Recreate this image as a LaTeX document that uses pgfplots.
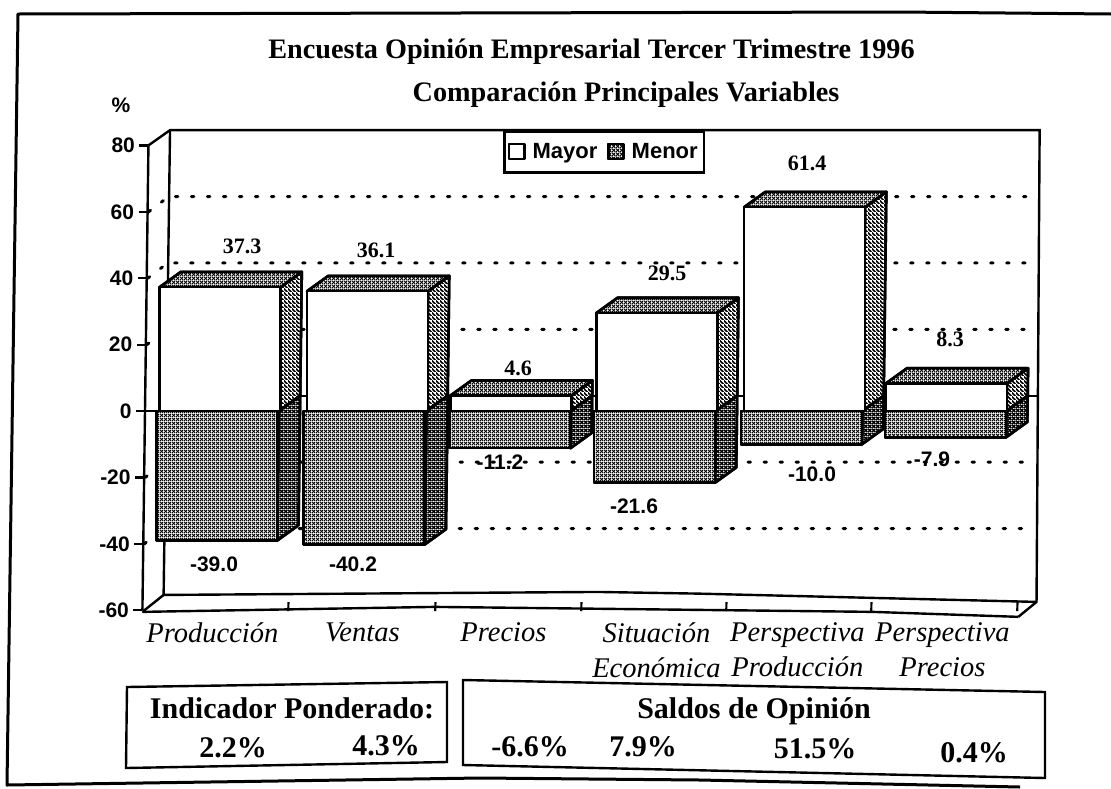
\documentclass[border=0pt]{standalone}
\usepackage{fontspec}
\setmainfont{Liberation Serif}
\setsansfont{Liberation Sans}
\usepackage{pgfplots}
\pgfplotsset{compat=1.18}
\usetikzlibrary{patterns}
\pgfdeclarepatternformonly{meshA}{\pgfqpoint{0pt}{0pt}}{\pgfqpoint{4pt}{4pt}}{\pgfqpoint{4pt}{4pt}}{\pgfsetlinewidth{1.1pt}\pgfpathmoveto{\pgfqpoint{0pt}{0pt}}\pgfpathlineto{\pgfqpoint{4pt}{4pt}}\pgfpathmoveto{\pgfqpoint{0pt}{4pt}}\pgfpathlineto{\pgfqpoint{4pt}{0pt}}\pgfusepath{stroke}}
\pgfdeclarepatternformonly{meshB}{\pgfqpoint{0pt}{0pt}}{\pgfqpoint{4pt}{4pt}}{\pgfqpoint{4pt}{4pt}}{\pgfsetlinewidth{1.7pt}\pgfpathmoveto{\pgfqpoint{0pt}{0pt}}\pgfpathlineto{\pgfqpoint{4pt}{4pt}}\pgfpathmoveto{\pgfqpoint{0pt}{4pt}}\pgfpathlineto{\pgfqpoint{4pt}{0pt}}\pgfusepath{stroke}}
\pgfdeclarepatternformonly{hatchS}{\pgfqpoint{0pt}{0pt}}{\pgfqpoint{4pt}{4pt}}{\pgfqpoint{4pt}{4pt}}{\pgfsetlinewidth{1.9pt}\pgfpathmoveto{\pgfqpoint{-1pt}{5pt}}\pgfpathlineto{\pgfqpoint{5pt}{-1pt}}\pgfusepath{stroke}}
\tikzset{face/.style={draw=black,line width=2.6pt,line join=round,preaction={fill=white}}}
\newcommand\px[1]{\fontsize{#1}{#1}\selectfont}
% depth of the 3D box: 21 units in x, 4.6 units in y
\newcommand\sideface[3]{% right edge, value, pattern
  \pgfmathsetmacro\xB{#1+21}\pgfmathsetmacro\vB{#2+4.6}
  \edef\tmp{\noexpand\addplot[forget plot,face,pattern=#3] coordinates {(#1,0) (\xB,4.6) (\xB,\vB) (#1,#2)} -- cycle;}\tmp}
\newcommand\topface[3]{% left edge, right edge, value
  \pgfmathsetmacro\xA{#1+21}\pgfmathsetmacro\xB{#2+21}\pgfmathsetmacro\vB{#3+4.6}
  \edef\tmp{\noexpand\addplot[forget plot,face,pattern=meshA] coordinates {(#1,#3) (#2,#3) (\xB,\vB) (\xA,\vB)} -- cycle;}\tmp}
\newcommand\gridback[1]{%
  \pgfmathsetmacro\vB{#1+4.6}
  \edef\tmp{\noexpand\addplot[forget plot,line width=3pt,line cap=round,dash pattern=on 2.5pt off 13.5pt] coordinates {(146,#1) (166,\vB) (1036,\vB)};}\tmp}
\begin{document}
\begin{tikzpicture}
\useasboundingbox (0pt,-788pt) rectangle (1111pt,0pt);
\begin{axis}[
  at={(145pt,-411pt)},anchor=origin,
  x={(1pt,0pt)},y={(0.043pt,3.32pt)},
  xmin=145,xmax=1021,ymin=-60,ymax=80,
  clip=false,
  axis y line=left,axis x line=bottom,
  axis line style={-,line width=2.4pt},
  x axis line style={draw=none},
  ytick={-60,-40,-20,0,20,40,60,80},
  xtick={291,438,584,729,874,1020},
  xticklabels={},
  extra x ticks={215,365,506,659,800,945},
  extra x tick labels={Producción,Ventas,Precios,Situación\\Económica,Perspectiva\\Producción,Perspectiva\\Precios},
  extra x tick style={major tick length=0pt,tick label style={font=\rmfamily\itshape\fontsize{28.5}{35}\selectfont,align=center,anchor=north,yshift=-9pt}},
  y tick label style={font=\sffamily\bfseries\fontsize{21}{21}\selectfont,xshift=-1pt},
  /pgf/number format/assume math mode=true,
  tick style={draw=black,line width=2.2pt},
  major tick length=9pt,
  tick align=outside,
  xtick style={yshift=8pt},
  legend columns=2,
  legend style={at={(axis cs:499.5,84.5)},anchor=north west,draw=black,line width=2.4pt,font=\sffamily\bfseries\fontsize{22}{22}\selectfont,inner xsep=4pt,inner ysep=10pt,/tikz/every even column/.append style={column sep=8pt}},
  legend cell align=left,
  legend image code/.code={\draw[#1,line width=2pt] (0pt,-7pt) rectangle (15pt,8pt);\path[draw=none,fill=none] (20pt,0pt) circle (0pt);},
]
% back wall lines
\addplot[forget plot,line width=2.4pt] coordinates {(145,80) (166.4,84.6) (1036,84.6) (1039,-57.5) (1021,-62)};
\addplot[forget plot,line width=2.4pt] coordinates {(166.4,84.6) (166,-55.4) (600,-54.5) (700,-55) (1039,-57.5)};
\addplot[forget plot,line width=2.4pt] coordinates {(145,-60.5) (166,-55.4)};
\addplot[forget plot,line width=2.4pt] coordinates {(145,-60.5) (437,-59) (875,-60.5) (1021,-62)};
\addplot[forget plot,line width=2.2pt] coordinates {(166,4.6) (1038,4.6)};
\addplot[forget plot,line width=2.2pt] coordinates {(137,0) (160,0)};
\gridback{60}\gridback{40}\gridback{20}\gridback{-20}\gridback{-40}
% sides and tops
\sideface{279}{37.3}{hatchS}\topface{158}{279}{37.3}
\sideface{426.5}{36.1}{hatchS}\topface{305.5}{426.5}{36.1}
\sideface{571}{4.6}{hatchS}\topface{450}{571}{4.6}
\sideface{716}{29.5}{hatchS}\topface{595}{716}{29.5}
\sideface{862.5}{61.4}{hatchS}\topface{741.5}{862.5}{61.4}
\sideface{1006.5}{8.3}{hatchS}\topface{885.5}{1006.5}{8.3}
\sideface{279}{-39.0}{meshB}
\sideface{426.5}{-40.2}{meshB}
\sideface{571}{-11.2}{meshB}
\sideface{716}{-21.6}{meshB}
\sideface{862.5}{-10.0}{meshB}
\sideface{1006.5}{-7.9}{meshB}
% fronts
\addplot[ybar,bar width=121pt,bar shift=0pt,face,fill=white] coordinates {(218.5,37.3) (366,36.1) (510.5,4.6) (655.5,29.5) (802,61.4) (946,8.3)};
\addlegendentry{Mayor}
\addplot[ybar,bar width=121pt,bar shift=0pt,face,pattern=meshA] coordinates {(218.5,-39.0) (366,-40.2) (510.5,-11.2) (655.5,-21.6) (802,-10.0) (946,-7.9)};
\addlegendentry{Menor}
\end{axis}
\begin{scope}[x=1pt,y=-1pt]
\draw[line width=3pt,line join=round] (1111,14) -- (900,12) -- (18,14) -- (7,785) -- (480,778) -- (700,780) -- (1020,787);
\node[anchor=base,font=\rmfamily\bfseries\px{28.2}] at (591.5,58) {Encuesta Opinión Empresarial Tercer Trimestre 1996};
\node[anchor=base,font=\rmfamily\bfseries\px{28.2}] at (626,101) {Comparación Principales Variables};
\node[font=\sffamily\bfseries\px{21}] at (121,105) {\%};
\foreach \x/\y/\t in {242/246/37.3,376/250/36.1,518/368/4.6,667/273/29.5,807/163/61.4,950/339/8.3}
  \node[font=\rmfamily\bfseries\px{22}] at (\x,\y) {\t};
\foreach \x/\y/\t in {214/564/-39.0,353/564/-40.2,500/462/-11.2,634/506/-21.6,812/474/-10.0,932/459/-7.9}
  \node[font=\sffamily\bfseries\px{21}] at (\x,\y) {\t};
\draw[line width=2.4pt,fill=white] (127,687) -- (447,682) -- (447,762) -- (126,768) -- cycle;
\draw[line width=2.4pt,fill=white] (463,680) -- (1045,692) -- (1045,778) -- (463,765) -- cycle;
\node[anchor=base,font=\rmfamily\bfseries\px{30}] at (292,718) {Indicador Ponderado:};
\node[anchor=base,font=\rmfamily\bfseries\px{30}] at (233,757) {2.2\%};
\node[anchor=base,font=\rmfamily\bfseries\px{30}] at (386,755) {4.3\%};
\node[anchor=base,font=\rmfamily\bfseries\px{30}] at (754,718) {Saldos de Opinión};
\node[anchor=base,font=\rmfamily\bfseries\px{30}] at (530,756) {-6.6\%};
\node[anchor=base,font=\rmfamily\bfseries\px{30}] at (643,756) {7.9\%};
\node[anchor=base,font=\rmfamily\bfseries\px{30}] at (815,758) {51.5\%};
\node[anchor=base,font=\rmfamily\bfseries\px{30}] at (974,762) {0.4\%};
\end{scope}
\end{tikzpicture}
\end{document}
